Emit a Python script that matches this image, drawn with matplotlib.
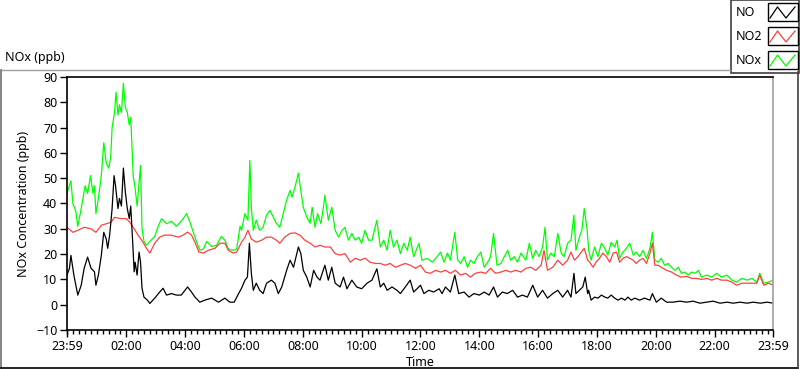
import numpy as np
import matplotlib
matplotlib.use('Agg')
import matplotlib.pyplot as plt
from matplotlib.lines import Line2D
from matplotlib.patches import Rectangle
from matplotlib.ticker import FixedLocator, MultipleLocator

plt.rcParams['font.family'] = ['Noto Sans', 'DejaVu Sans']

# times are minutes after midnight (-1 = 23:59 of the day before)
t_nox = [-1, 7, 11, 17, 21, 28, 36, 41, 47, 52, 55, 58, 63, 69, 74, 79, 84, 88, 91, 96, 99, 103, 106, 110,
         114, 118, 122, 126, 129, 132, 134, 138, 142, 146, 149, 152, 156, 161, 168, 178, 185, 192, 202, 212,
         222, 232, 243, 249, 256, 263, 270, 277, 284, 294, 304, 314, 321, 328, 338, 345, 352, 355, 362, 368,
         372, 375, 379, 385, 392, 399, 406, 413, 420, 426, 433, 440, 447, 454, 458, 464, 471, 476, 481, 488,
         495, 499, 505, 510, 517, 522, 525, 532, 539, 546, 553, 560, 566, 573, 580, 587, 594, 600, 607, 614,
         621, 631, 638, 645, 652, 658, 665, 672, 679, 686, 693, 699, 706, 717, 723, 734, 744, 754, 761, 768,
         775, 781, 790, 796, 802, 809, 816, 822, 829, 836, 843, 850, 857, 863, 869, 876, 884, 891, 898, 904,
         911, 918, 925, 935, 942, 949, 955, 962, 969, 974, 979, 986, 993, 1000, 1007, 1013, 1020, 1027, 1033,
         1037, 1044, 1049, 1054, 1060, 1063, 1068, 1075, 1082, 1089, 1096, 1102, 1109, 1116, 1121, 1126, 1133,
         1140, 1147, 1154, 1160, 1167, 1174, 1181, 1188, 1193, 1198, 1205, 1211, 1218, 1225, 1232, 1239, 1246,
         1252, 1259, 1266, 1273, 1280, 1287, 1293, 1304, 1314, 1324, 1334, 1345, 1355, 1365, 1375, 1386, 1396,
         1406, 1412, 1420, 1430, 1439]
nox = [44, 49, 40, 37, 31, 38, 47, 44, 51, 44, 47, 36, 42, 51, 64, 56, 54, 58, 70, 76, 84, 75, 79, 76,
       87.5, 78, 76, 71, 74, 60, 51, 46, 39, 48, 55, 30, 25, 23.5, 25, 27, 31, 34, 32, 33,
       31, 33, 36, 33, 29, 25, 21.5, 22, 25, 23, 23.5, 27, 25.5, 22, 21.5, 22, 31, 29.4, 36, 33.4,
       57, 38.5, 29.4, 33.4, 29.4, 30.6, 35.4, 37.3, 34.6, 32.2, 30.6, 36, 41.3, 45.2, 42.5, 46.4, 52, 45, 38.5, 34.6,
       32.2, 38.5, 30.6, 36, 32, 38.5, 43.3, 33.4, 38.5, 29.4, 26.7, 29.4, 30.6, 25.5, 28.2, 25.5, 26.7, 24.3, 29.4, 25.5,
       25.5, 33.4, 22.8, 25.5, 21.5, 29.4, 22.8, 25.5, 20.2, 24.3, 21.5, 26.7, 19, 24.3, 17.6, 18.3, 16.8, 19, 20.8, 16.8,
       20.4, 17.6, 28.6, 17.6, 16.3, 19, 14.8, 17.6, 16.3, 19, 20.8, 14.8, 16.8, 19, 28.2, 15.6, 16.3, 19, 21.5, 17.6,
       19, 16.8, 20.4, 17.6, 24.3, 18.3, 21.5, 19, 22.8, 30.6, 17.6, 20.4, 19, 28.2, 20.4, 19, 24.3, 25.5, 35.4,
       21.5, 26.7, 29.4, 38, 29.4, 21.5, 17.6, 22.8, 19, 24.3, 22.3, 19.6, 24.7, 22.8, 25.5, 18.3, 20.8,
       22.3, 24.3, 19.6, 20.8, 19, 21.5, 18.3, 22.3, 28.6, 17.6, 16.8, 18.3, 15.6, 16.3, 14.8, 13.6, 14.8,
       12.4, 12.9, 11.7, 12.9, 12.4, 13.6, 10.9, 11.7, 10.9, 12.4, 10.9, 11.7, 9.7, 8.9, 10.4, 9.7, 10.4,
       8.9, 12.4, 8.5, 8.9, 9.7]

t_no2 = [-1, 11, 21, 34, 48, 58, 69, 79, 89, 96, 110, 120, 127, 134, 144, 154, 161, 168, 178, 188, 198, 212,
         226, 236, 245, 253, 260, 268, 277, 287, 301, 311, 321, 328, 338, 345, 355, 362, 368, 375, 385, 396,
         406, 416, 426, 433, 443, 454, 464, 474, 484, 495, 505, 515, 525, 536, 546, 556, 566, 577, 587, 597,
         607, 617, 628, 638, 648, 658, 669, 679, 689, 699, 710, 720, 730, 740, 751, 761, 771, 781, 791, 802,
         812, 822, 832, 843, 853, 863, 873, 884, 894, 904, 914, 925, 935, 945, 955, 966, 972, 979, 990, 1000,
         1010, 1020, 1027, 1034, 1041, 1048, 1054, 1061, 1065, 1072, 1078, 1085, 1092, 1099, 1106, 1113, 1120,
         1126, 1133, 1140, 1147, 1154, 1160, 1167, 1174, 1181, 1188, 1193, 1198, 1205, 1211, 1222, 1232, 1242,
         1252, 1263, 1273, 1283, 1293, 1304, 1314, 1324, 1334, 1345, 1355, 1365, 1375, 1386, 1396, 1406, 1412,
         1420, 1430, 1439]
no2 = [30.6, 28.6, 29.4, 30.6, 30, 28.6, 31.4, 32, 32.6, 34.5, 34, 34, 32.6, 30.6, 27.5, 24.7, 22.3, 20.4, 24.3, 26.7, 27.5, 27.5,
       26.7, 27.5, 28.7, 27.5, 24.7, 20.8, 20.4, 21.5, 22.3, 24.3, 24.3, 21.5, 20.4, 20.8, 24.7, 26.7, 29.4, 26, 24.7, 25.5,
       26.7, 26.7, 25.5, 24.3, 26.7, 28.2, 28.4, 27.5, 25.5, 24.3, 22.8, 23.5, 22.8, 22.8, 20.2, 19.6, 20.2, 16.8, 18.4, 17.6,
       18.4, 16.8, 16.3, 16.3, 15.6, 16.3, 14.8, 15.6, 16.3, 15.6, 14.4, 15.6, 12.9, 12.4, 13.6, 12.9, 13.6, 12.4, 13.6, 11.7,
       12.4, 10.9, 12.4, 12.9, 12.4, 14.4, 12.4, 12.9, 13.6, 12.9, 13.6, 12.9, 14.4, 14.8, 13.6, 15.6, 21.5, 13.6, 14.8, 17.6,
       15.6, 17.6, 20.8, 17.6, 19, 20.8, 22.3, 17.6, 16.8, 14.8, 16.8, 18.3, 20.4, 19, 16.8, 20.4, 20.8,
       16.8, 18.3, 19, 18.3, 17.6, 16.3, 17.6, 18.3, 16.3, 20.4, 24.3, 15.6, 15.6, 14.8, 13.6, 12.9, 11.7,
       10.9, 11.2, 10.4, 10.4, 10, 10.4, 9.7, 10.4, 9.7, 9.7, 8.9, 7.7, 8.5, 8.5, 8.5, 8.5, 11.7,
       7.7, 8.5, 7.7]

t_no = [-1, 4, 7, 13, 17, 21, 28, 34, 41, 48, 55, 58, 63, 69, 74, 79, 82, 86, 91, 95, 98, 103, 106, 110,
        114, 118, 122, 126, 129, 133, 136, 138, 142, 146, 149, 152, 156, 163, 168, 178, 188, 195, 202, 212,
        222, 232, 245, 253, 260, 270, 280, 294, 308, 321, 331, 340, 349, 355, 362, 367, 371, 375, 379, 385,
        392, 399, 406, 416, 423, 430, 437, 447, 454, 461, 466, 471, 476, 481, 488, 495, 502, 509, 515, 525,
        532, 539, 546, 556, 563, 570, 580, 590, 600, 611, 621, 631, 638, 645, 652, 662, 672, 679, 689, 699,
        706, 713, 720, 727, 737, 747, 758, 764, 771, 781, 790, 798, 809, 819, 829, 840, 850, 860, 869, 877,
        887, 897, 908, 918, 928, 938, 949, 959, 969, 979, 990, 1000, 1010, 1020, 1027, 1033, 1037, 1044, 1051,
        1056, 1061, 1063, 1068, 1075, 1082, 1089, 1096, 1102, 1109, 1116, 1123, 1130, 1137, 1143, 1150, 1157,
        1167, 1177, 1188, 1193, 1201, 1211, 1222, 1235, 1249, 1263, 1276, 1290, 1304, 1317, 1331, 1345, 1358,
        1372, 1386, 1399, 1413, 1427, 1439]
no = [11.7, 14.4, 19.5, 11.7, 7.7, 3.8, 7.7, 14.4, 18.8, 14.4, 13, 7.7, 11.7, 19.5, 28.6, 26, 22.3, 27.5, 38, 51, 47, 38, 42, 39,
      54, 44.5, 38, 34, 39, 24.7, 13, 16.8, 11.7, 20.8, 16.8, 6.5, 3, 1.8, 0.5, 2.6, 5, 6.5, 3.8, 4.4,
      3.8, 3.8, 7, 5, 3, 1, 1.8, 2.6, 1, 2.6, 1, 1, 4.4, 6.5, 9.7, 10.9, 24.3, 12.4, 5.7, 8.5,
      5.7, 4.4, 8.5, 9.7, 8.5, 4.4, 7, 13.6, 17.6, 14.8, 18.8, 22.8, 20.2, 13.6, 10.9, 7, 13.6, 10.9, 9.7, 15.6,
      9.7, 14.8, 8.5, 7, 10.9, 6.3, 9.7, 7, 6.3, 8.5, 9.7, 14.2, 7, 8.5, 5.7, 7, 5.7, 4.4, 7, 9.7,
      5, 6.3, 7.7, 4.4, 5.7, 5, 6.3, 4.4, 7, 5, 11.7, 4.4, 5, 3, 4.4, 3.8, 5, 3.8, 7, 3,
      5, 4.4, 5.7, 3, 3.8, 3, 7.7, 3, 5.7, 2.6, 4.4, 5.7, 3, 5.7, 3, 12.4, 4.4, 5.7, 7,
      10.9, 4.4, 5.7, 1.8, 3, 2.6, 3.8, 3, 2.6, 3.8, 2.6, 1.8, 2.6, 1.8, 3, 1.8, 2.6,
      1.8, 2.6, 1.8, 4.4, 1, 2.6, 1, 1, 1.4, 1, 1.4, 0.6, 1, 1.4, 0.6, 1, 0.6,
      1, 0.6, 1, 0.6, 1, 0.6]

tick_pos = [-1, 120, 240, 360, 480, 600, 720, 840, 960, 1080, 1200, 1320, 1439]
tick_labels = ['23:59', '02:00', '04:00', '06:00', '08:00', '10:00', '12:00',
               '14:00', '16:00', '18:00', '20:00', '22:00', '23:59']
series_names = ['NO', 'NO2', 'NOx']
series_colors = ['#000000', '#ff4040', '#00ff00']

fig = plt.figure(figsize=(8, 3.69), dpi=100)
ax = fig.add_axes([67 / 800, 1 - 330 / 369, (773 - 67) / 800, (330 - 77) / 369])

ax.plot(t_nox, nox, color=series_colors[2], lw=0.9)
ax.plot(t_no2, no2, color=series_colors[1], lw=0.9)
ax.plot(t_no, no, color=series_colors[0], lw=0.9)

ax.set_xlim(-1, 1439)
ax.set_ylim(-10, 90)
ax.set_yticks(np.arange(-10, 91, 10))
ax.xaxis.set_major_locator(FixedLocator(tick_pos))
ax.set_xticklabels(tick_labels)
ax.xaxis.set_minor_locator(MultipleLocator(12))
ax.tick_params(axis='both', which='major', length=5, width=1, labelsize=9, pad=2)
ax.tick_params(axis='x', which='minor', length=3, width=1)
for s in ['left', 'top', 'bottom']:
    ax.spines[s].set_color('black')
    ax.spines[s].set_linewidth(1.2)
ax.spines['right'].set_color('#a0a0a0')
ax.spines['right'].set_linewidth(1.2)
ax.set_xlabel('Time', fontsize=9, labelpad=2)
ax.set_ylabel('NOx Concentration (ppb)', fontsize=9, labelpad=4)

# outer frame of the graph
W, H = 800, 369
def fx(px):
    return px / W
def fy(py):
    return 1 - py / H
fig.add_artist(Line2D([fx(0.5), fx(730)], [fy(69.5), fy(69.5)], color='#a0a0a0', lw=1))
fig.add_artist(Line2D([fx(0.5), fx(0.5)], [fy(69.5), fy(368)], color='#707070', lw=1.2))
fig.add_artist(Line2D([fx(0.5), fx(798)], [fy(367.5), fy(367.5)], color='black', lw=1.2))
fig.add_artist(Line2D([fx(797.5), fx(797.5)], [fy(72), fy(368)], color='#404040', lw=1.2))
fig.text(fx(5), fy(58), 'NOx (ppb)', fontsize=9, va='center', ha='left')

# legend box at top right
fig.add_artist(Rectangle((fx(730.5), fy(72.5)), fx(68), 72.5 / H, facecolor='white',
                         edgecolor='#404040', lw=1.2))
for i, (name, col) in enumerate(zip(series_names, series_colors)):
    yc = 12 + 24 * i
    fig.text(fx(736), fy(yc), name, fontsize=9, va='center', ha='left')
    fig.add_artist(Rectangle((fx(767.5), fy(yc + 8.5)), fx(30), 17 / H, facecolor='white',
                             edgecolor='black', lw=1.0))
    zx = [770, 777.5, 786, 795]
    zy = [yc + 6, yc - 5, yc + 6, yc - 5]
    fig.add_artist(Line2D([fx(v) for v in zx], [fy(v) for v in zy], color=col, lw=0.9))

fig.savefig('out.png', dpi=100)
